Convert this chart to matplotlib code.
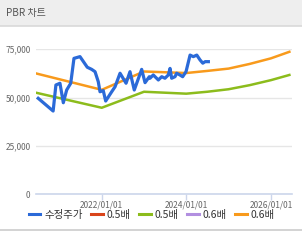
import matplotlib
matplotlib.use("Agg")
import matplotlib.pyplot as plt
import matplotlib.dates as mdates
from matplotlib.lines import Line2D
import pandas as pd

plt.rcParams['font.family'] = ['Noto Sans CJK KR', 'DejaVu Sans']

price_dates = ["2020-07-01", "2020-11-07", "2020-12-01", "2021-01-05", "2021-02-03", "2021-03-04",
               "2021-04-08", "2021-05-06", "2021-06-27", "2021-08-29", "2021-10-06", "2021-11-04",
               "2021-12-02", "2021-12-17", "2022-01-14", "2022-02-04", "2022-03-28", "2022-04-26",
               "2022-06-08", "2022-07-30", "2022-09-02", "2022-10-09", "2022-12-12", "2023-01-10",
               "2023-02-16", "2023-02-22", "2023-03-22", "2023-05-05", "2023-06-03", "2023-07-01",
               "2023-07-30", "2023-08-14", "2023-08-28", "2023-09-26", "2023-10-10", "2023-11-07",
               "2023-12-01", "2023-12-30", "2024-02-03", "2024-03-02", "2024-04-01", "2024-04-29",
               "2024-05-23", "2024-06-12", "2024-07-10"]
price_values = [49600, 43000, 56500, 57400, 47300, 53900,
                57400, 70300, 71200, 65700, 64600, 63400,
                58200, 53000, 53600, 48200, 53000, 55600,
                62600, 57400, 63400, 53900, 64600, 57700,
                60800, 60000, 61700, 59100, 60800, 60000,
                61700, 65100, 60000, 60800, 62600, 61700,
                60800, 63400, 72000, 71200, 72000, 69500,
                67800, 68600, 68600]

pbr_dates = ["2020-06-12", "2022-01-01", "2023-01-01", "2024-01-01", "2024-07-01",
             "2025-01-01", "2025-07-01", "2026-01-01", "2026-06-10"]
pbr05_values = [52500, 44700, 53000, 52000, 53000, 54300, 56400, 59000, 61700]
pbr06_values = [62500, 54000, 63500, 62700, 63800, 65000, 67400, 70300, 73700]

legend_labels = ["수정주가", "0.5배", "0.5배", "0.6배", "0.6배"]
legend_colors = ["#2b6ad8", "#d9441a", "#8cbc1c", "#b28fe0", "#f89a1c"]

y_ticks = [0, 25000, 50000, 75000]
x_ticks = ["2022-01-01", "2024-01-01", "2026-01-01"]

W, H = 302, 252
fig = plt.figure(figsize=(W / 100, H / 100), dpi=100)
fig.patch.set_facecolor("white")

# header band
hdr = fig.add_axes([0, 1 - 25.5 / H, 1, 25.5 / H])
hdr.set_facecolor("#eeeeee")
hdr.set_xticks([]); hdr.set_yticks([])
for s in ["top", "left", "right"]:
    hdr.spines[s].set_visible(False)
hdr.spines["bottom"].set_color("#d9d9d9")
hdr.spines["bottom"].set_linewidth(1.2)
fig.text(6 / W, 1 - 13 / H, "PBR 차트", fontsize=7.2, color="#555555", va="center", ha="left")

# bottom separator
fig.add_artist(Line2D([0, 1], [1 - 229.5 / H, 1 - 229.5 / H], color="#cccccc", lw=1.2,
                      transform=fig.transFigure))

ax = fig.add_axes([36 / W, 1 - 194 / H, (291.7 - 36) / W, (194 - 49.3) / H])
pdates = pd.to_datetime(price_dates)
bdates = pd.to_datetime(pbr_dates)

ax.plot(bdates, pbr05_values, color=legend_colors[2], lw=1.8, zorder=2)
ax.plot(bdates, pbr06_values, color=legend_colors[4], lw=1.8, zorder=2)
ax.plot(pdates, price_values, color=legend_colors[0], lw=2.3, zorder=3, solid_joinstyle="round")

ax.set_xlim(pd.Timestamp("2020-06-12"), pd.Timestamp("2026-06-30"))
ax.set_ylim(0, 75000)
ax.set_yticks(y_ticks)
ax.set_yticklabels([f"{v:,}" for v in y_ticks])
ax.set_xticks(pd.to_datetime(x_ticks))
ax.xaxis.set_major_formatter(mdates.DateFormatter("%Y/%m/%d"))
ax.grid(axis="y", color="#e6e6e6", lw=1)
ax.set_axisbelow(True)
for s in ["top", "left", "right"]:
    ax.spines[s].set_visible(False)
ax.spines["bottom"].set_color("#ccd6eb")
ax.spines["bottom"].set_linewidth(1.2)
ax.tick_params(axis="y", length=0, labelsize=6, labelcolor="#666666", pad=4)
ax.tick_params(axis="x", length=4, color="#ccd6eb", width=1, labelsize=6, labelcolor="#666666", pad=1)
ax.set_facecolor("white")

handles = [Line2D([0], [0], color=c, lw=2.2) for c in legend_colors]
fig.legend(handles, legend_labels, loc="center", bbox_to_anchor=(152 / W, 1 - 215 / H),
           ncol=5, frameon=False, fontsize=7.5, handlelength=1.1, handletextpad=0.4,
           columnspacing=0.8, labelcolor="#333333")

fig.savefig("out.png", dpi=100, facecolor="white")
